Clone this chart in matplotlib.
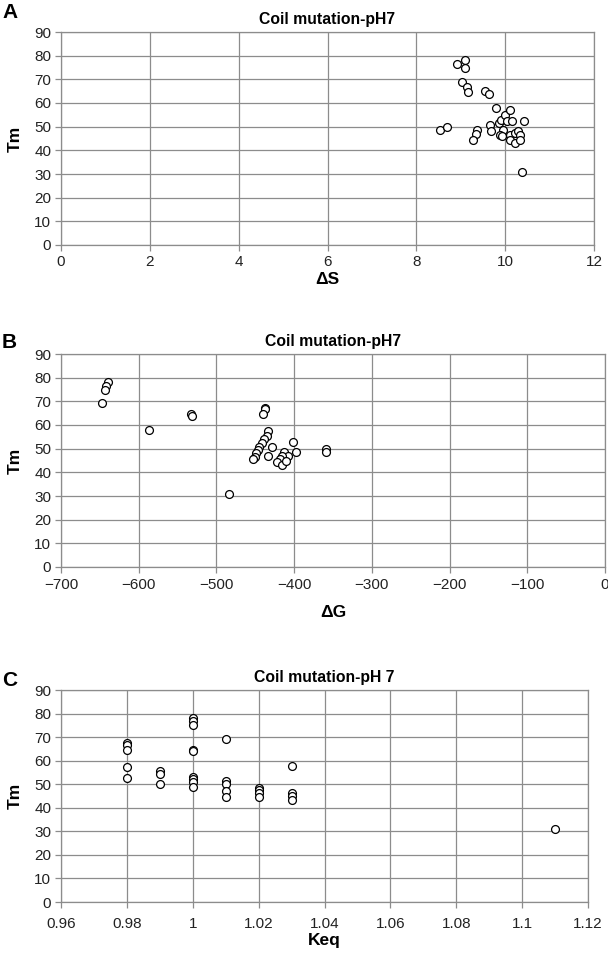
import matplotlib
matplotlib.use('Agg')
import matplotlib.pyplot as plt
import matplotlib.ticker as mticker

plt.rcParams['font.family'] = ['Liberation Sans', 'DejaVu Sans']

# panel A: delta S vs Tm
ds_x = [8.92, 9.10, 9.10, 9.03, 9.13, 9.17, 9.55, 9.64, 9.79, 8.53, 8.68,
        9.37, 9.34, 9.28, 9.66, 9.67, 9.85, 9.91, 9.96, 9.89, 9.92, 10.00,
        10.05, 10.11, 10.15, 10.43, 10.10, 10.23, 10.30, 10.34, 10.10, 10.23,
        10.34, 10.39]
ds_tm = [76.5, 78.0, 75.0, 69.0, 66.7, 64.5, 65.0, 64.0, 57.7, 48.7, 49.8,
         48.7, 46.8, 44.5, 50.8, 48.3, 51.5, 52.9, 48.7, 46.6, 46.1, 55.0,
         52.6, 57.2, 52.6, 52.6, 46.6, 47.3, 48.3, 46.6, 44.5, 43.1,
         44.2, 30.8]

# panel B: delta G vs Tm
dg_x = [-639, -642, -643, -647, -587, -533, -532, -484, -438, -437, -440,
        -433, -435, -439, -442, -445, -447, -449, -451, -453, -428, -433,
        -402, -397, -413, -408, -415, -418, -422, -415, -410, -359, -359]
dg_tm = [78.1, 76.4, 75.0, 69.1, 57.9, 64.5, 63.9, 30.8, 67.3, 66.6, 64.5,
         57.4, 55.3, 53.9, 52.2, 50.8, 49.4, 48.0, 46.6, 45.8, 50.8, 46.9,
         52.8, 48.7, 48.7, 46.9, 46.9, 45.8, 44.4, 43.0, 44.8, 50.0, 48.6]

# panel C: Keq vs Tm
keq_x = [0.98, 0.98, 0.98, 0.98, 0.98,
         0.99, 0.99, 0.99,
         1.00, 1.00, 1.00, 1.00, 1.00, 1.00, 1.00, 1.00, 1.00,
         1.01, 1.01, 1.01, 1.01, 1.01,
         1.02, 1.02, 1.02, 1.02,
         1.03, 1.03, 1.03, 1.03,
         1.11]
keq_tm = [67.5, 66.7, 64.6, 57.2, 52.7,
          55.8, 54.3, 50.0,
          78.3, 76.9, 75.3, 64.6, 64.0, 53.0, 52.2, 51.0, 49.0,
          69.0, 51.5, 50.1, 47.3, 44.5,
          48.5, 47.6, 46.3, 44.5,
          57.8, 46.2, 44.8, 43.5,
          31.0]

W, H = 608, 964
fig = plt.figure(figsize=(W / 100, H / 100), dpi=100)

grid_col = '#8c8c8c'


def make_panel(box, xs, ys, xlim, xstep, title, xlabel, letter, letter_y,
               tickpad=3, xlabelpad=2, fmt=None):
    l, t, r, b = box
    ax = fig.add_axes([l / W, 1 - b / H, (r - l) / W, (b - t) / H])
    ax.scatter(xs, ys, s=32, facecolors='white', edgecolors='black',
               linewidths=0.9, zorder=3, clip_on=False)
    ax.set_xlim(*xlim)
    ax.set_ylim(0, 90)
    ax.xaxis.set_major_locator(mticker.MultipleLocator(xstep))
    ax.yaxis.set_major_locator(mticker.MultipleLocator(10))
    if fmt:
        ax.xaxis.set_major_formatter(mticker.FuncFormatter(fmt))
    ax.grid(True, color=grid_col, linewidth=0.9)
    ax.set_axisbelow(True)
    for s in ax.spines.values():
        s.set_color(grid_col)
        s.set_linewidth(0.9)
    ax.tick_params(direction='out', length=4, width=0.9, color=grid_col,
                   labelsize=11, labelcolor='#222222', pad=3)
    ax.tick_params(axis='x', pad=tickpad)
    ax.set_title(title, fontsize=11.3, fontweight='bold', pad=6)
    ax.set_xlabel(xlabel, fontsize=12.5, fontweight='bold', labelpad=xlabelpad)
    ax.set_ylabel('Tm', fontsize=12.5, fontweight='bold', labelpad=8)
    fig.text(2 / W, 1 - letter_y / H, letter, fontsize=15, fontweight='bold',
             va='center', ha='left')
    return ax


make_panel((61, 32, 594, 245), ds_x, ds_tm, (0, 12), 2,
           'Coil mutation-pH7', '\u0394S', 'A', 12)
make_panel((61, 354, 605, 567), dg_x, dg_tm, (-700, 0), 100,
           'Coil mutation-pH7', '\u0394G', 'B', 342, tickpad=4, xlabelpad=9)
make_panel((61, 690, 588, 902), keq_x, keq_tm, (0.96, 1.12), 0.02,
           'Coil mutation-pH 7', 'Keq', 'C', 680, tickpad=7, xlabelpad=1,
           fmt=lambda v, p: f'{round(v, 2):g}')

fig.savefig('out.png', dpi=100)
